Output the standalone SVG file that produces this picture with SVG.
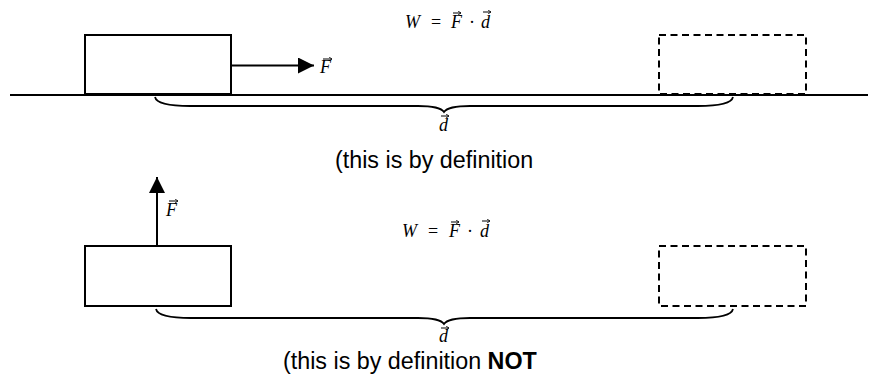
<svg xmlns="http://www.w3.org/2000/svg" width="879" height="374" viewBox="0 0 879 374">
<style>
.box{fill:#fff;stroke:#000;stroke-width:2}
.ghost{fill:none;stroke:#000;stroke-width:2;stroke-dasharray:7 4.5}
.ln{fill:none;stroke:#000;stroke-width:2}
.br{fill:none;stroke:#000;stroke-width:1.8}
.acc{fill:none;stroke:#000;stroke-width:1}
.math{font-family:"Liberation Serif",serif;font-size:18px;font-style:italic;fill:#000}
.op{font-family:"Liberation Serif",serif;font-size:18px;fill:#000}
.cap{font-family:"Liberation Sans",Arial,sans-serif;font-size:23.3px;fill:#000}
</style>
<defs>
<marker id="head" markerUnits="userSpaceOnUse" markerWidth="16" markerHeight="16" refX="16" refY="8" orient="auto">
<path d="M0,0 L16,8 L0,16 z" fill="#000"/>
</marker>
<marker id="acchead" markerUnits="userSpaceOnUse" markerWidth="4" markerHeight="4" refX="3" refY="2" orient="auto">
<path d="M0,0 L3,2 L0,4" fill="none" stroke="#000" stroke-width="0.8"/>
</marker>
</defs>

<!-- Panel 1 -->
<g id="ground">
<line class="ln" x1="10" y1="95" x2="868" y2="95"/>
</g>
<g id="equation-1">
<text class="math" x="405" y="28">W</text>
<text class="op" x="431" y="28">=</text>
<text class="math" x="451" y="28">F</text>
<line class="acc" x1="453" y1="13" x2="461" y2="13" marker-end="url(#acchead)"/>
<text class="op" x="469" y="28">·</text>
<text class="math" x="481" y="28">d</text>
<line class="acc" x1="483" y1="12" x2="491" y2="12" marker-end="url(#acchead)"/>
</g>
<g id="block-start-1">
<rect class="box" x="85" y="35" width="146" height="59"/>
</g>
<g id="block-end-1">
<rect class="ghost" x="659" y="35" width="147" height="59"/>
</g>
<g id="label-F-1">
<text class="math" x="320" y="73">F</text>
<line class="acc" x1="323" y1="59" x2="332" y2="59" marker-end="url(#acchead)"/>
</g>
<g id="label-d-1">
<text class="math" x="439" y="131">d</text>
<line class="acc" x1="441" y1="116" x2="449" y2="116" marker-end="url(#acchead)"/>
</g>
<text class="cap" x="335" y="168">(this is by definition</text>

<!-- Panel 2 -->
<g id="equation-2">
<text class="math" x="402" y="237">W</text>
<text class="op" x="428" y="237">=</text>
<text class="math" x="449" y="237">F</text>
<line class="acc" x1="451" y1="222" x2="459" y2="222" marker-end="url(#acchead)"/>
<text class="op" x="467" y="237">·</text>
<text class="math" x="480" y="237">d</text>
<line class="acc" x1="482" y1="221" x2="490" y2="221" marker-end="url(#acchead)"/>
</g>
<g id="block-start-2">
<rect class="box" x="85" y="246" width="146" height="60"/>
</g>
<g id="block-end-2">
<rect class="ghost" x="659" y="246" width="147" height="60"/>
</g>
<g id="label-F-2">
<text class="math" x="166" y="216">F</text>
<line class="acc" x1="169" y1="201" x2="178" y2="201" marker-end="url(#acchead)"/>
</g>
<g id="label-d-2">
<text class="math" x="439" y="342">d</text>
<line class="acc" x1="441" y1="328" x2="449" y2="328" marker-end="url(#acchead)"/>
</g>
<text class="cap" x="283" y="369">(this is by definition <tspan font-weight="bold">NOT</tspan></text>

<!-- Connectors -->
<g id="connectors">
<line class="ln" x1="231" y1="65.5" x2="314" y2="65.5" marker-end="url(#head)"/>
<line class="ln" x1="157" y1="246" x2="157" y2="177" marker-end="url(#head)"/>
<path class="br" d="M155,97 Q157,106 190,106 L418,106 Q440,106 444,112 Q448,106 470,106 L698,106 Q731,106 733,97"/>
<path class="br" d="M156,309 Q158,318 191,318 L418,318 Q440,318 444,324 Q448,318 470,318 L698,318 Q731,318 733,309"/>
</g>
</svg>
